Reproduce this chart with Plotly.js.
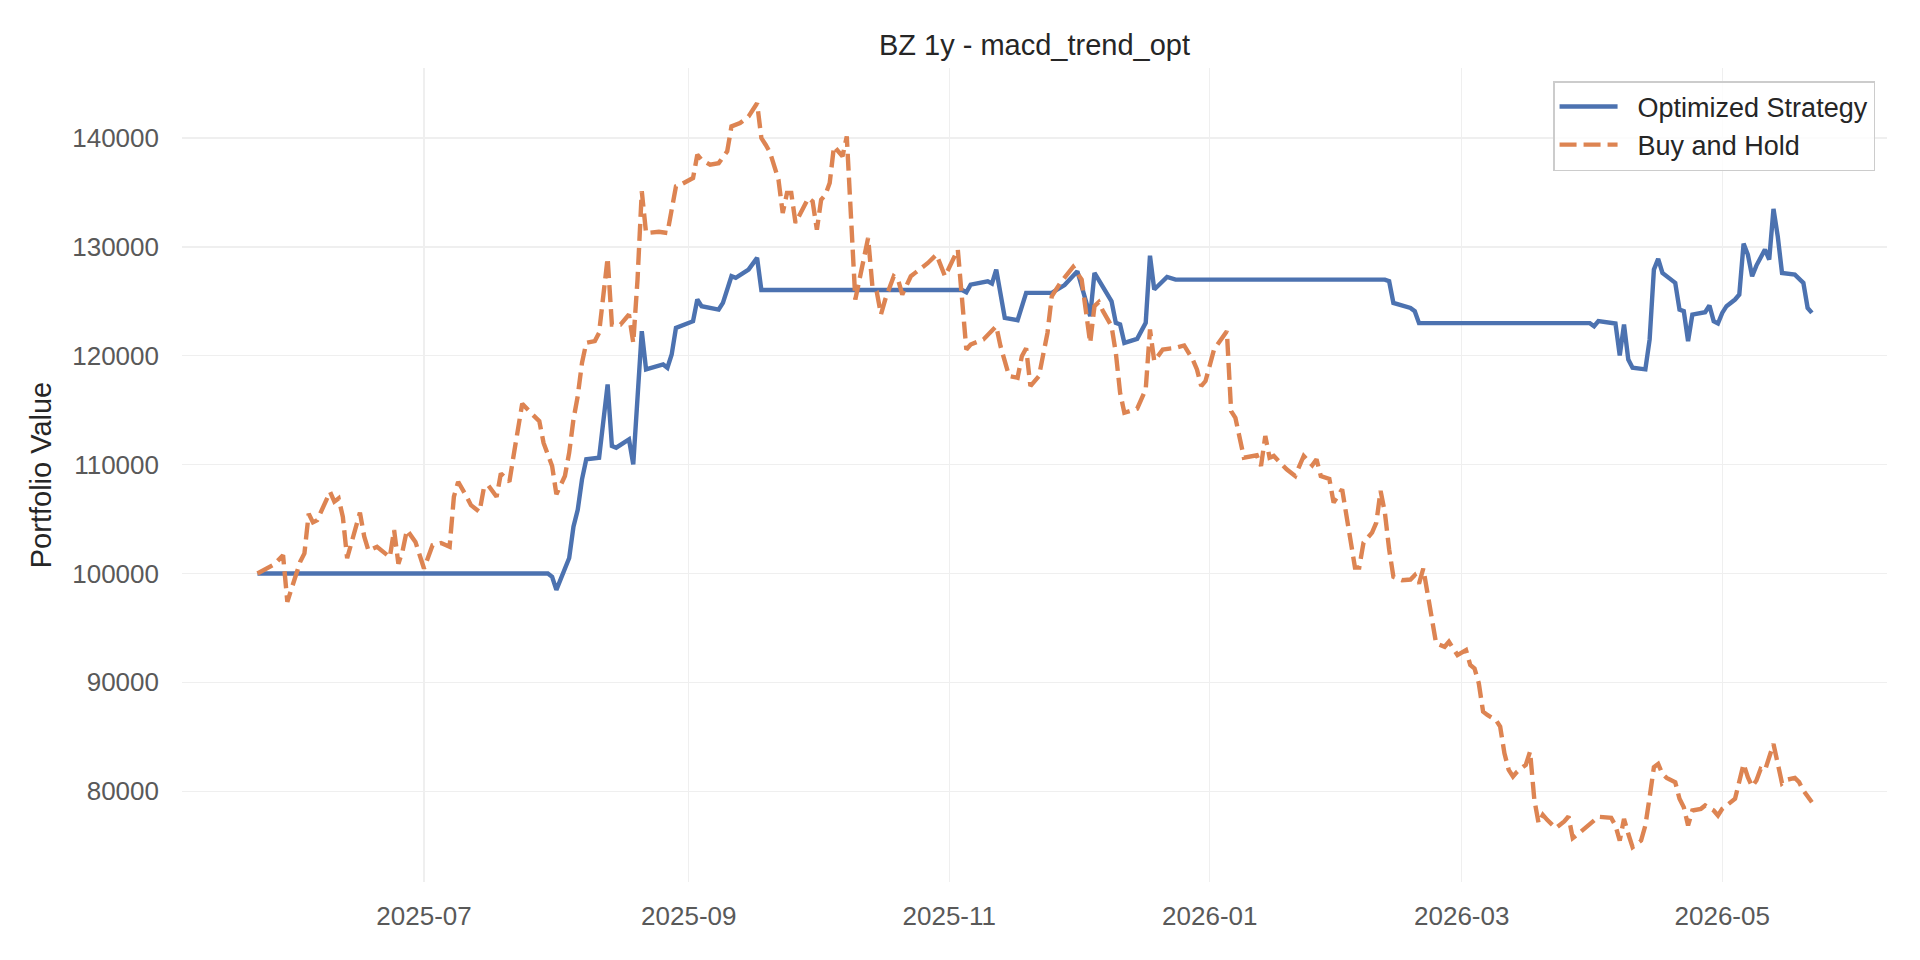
<!DOCTYPE html>
<html>
<head>
<meta charset="utf-8">
<script src="https://cdn.plot.ly/plotly-3.0.1.min.js"></script>
<style>
  html, body { margin: 0; padding: 0; background: #ffffff; }
  #chart { width: 1920px; height: 960px; }
</style>
</head>
<body>
<div id="chart"></div>
<script>
// Buy and Hold (dashed orange)
var holdDates = [
  "2025-05-23","2025-05-27","2025-05-29","2025-05-30","2025-06-02","2025-06-03","2025-06-04","2025-06-05",
  "2025-06-06","2025-06-09","2025-06-10","2025-06-11","2025-06-12","2025-06-13","2025-06-16","2025-06-17",
  "2025-06-18","2025-06-20","2025-06-23","2025-06-24","2025-06-25","2025-06-26","2025-06-27","2025-06-29",
  "2025-07-01","2025-07-03","2025-07-05","2025-07-07","2025-07-08","2025-07-09","2025-07-11","2025-07-12",
  "2025-07-14","2025-07-15","2025-07-16","2025-07-18","2025-07-19","2025-07-21","2025-07-22","2025-07-24",
  "2025-07-26","2025-07-28","2025-07-29","2025-07-31","2025-08-01","2025-08-03","2025-08-04","2025-08-05",
  "2025-08-06","2025-08-07","2025-08-08","2025-08-10","2025-08-11","2025-08-12","2025-08-13","2025-08-14",
  "2025-08-16","2025-08-18","2025-08-19","2025-08-20","2025-08-21","2025-08-22","2025-08-25","2025-08-27",
  "2025-08-29","2025-08-30","2025-09-02","2025-09-03","2025-09-04","2025-09-06","2025-09-08","2025-09-10",
  "2025-09-11","2025-09-13","2025-09-15","2025-09-17","2025-09-18","2025-09-19","2025-09-20","2025-09-22",
  "2025-09-23","2025-09-24","2025-09-25","2025-09-26","2025-09-29","2025-09-30","2025-10-01","2025-10-02",
  "2025-10-03","2025-10-04","2025-10-05","2025-10-07","2025-10-08","2025-10-10","2025-10-13","2025-10-14",
  "2025-10-15","2025-10-16","2025-10-17","2025-10-19","2025-10-20","2025-10-21","2025-10-23","2025-10-24",
  "2025-10-27","2025-10-29","2025-10-30","2025-10-31","2025-11-03","2025-11-04","2025-11-05","2025-11-06",
  "2025-11-09","2025-11-12","2025-11-13","2025-11-15","2025-11-17","2025-11-18","2025-11-19","2025-11-20",
  "2025-11-22","2025-11-24","2025-11-25","2025-11-27","2025-11-28","2025-11-30","2025-12-02","2025-12-03",
  "2025-12-04","2025-12-05","2025-12-06","2025-12-07","2025-12-09","2025-12-10","2025-12-11","2025-12-12",
  "2025-12-15","2025-12-17","2025-12-18","2025-12-19","2025-12-21","2025-12-24","2025-12-26","2025-12-28",
  "2025-12-29","2025-12-30","2025-12-31","2026-01-02","2026-01-05","2026-01-06","2026-01-07","2026-01-09",
  "2026-01-12","2026-01-13","2026-01-14","2026-01-15","2026-01-16","2026-01-19","2026-01-21","2026-01-23",
  "2026-01-25","2026-01-26","2026-01-27","2026-01-29","2026-01-30","2026-02-01","2026-02-03","2026-02-04",
  "2026-02-05","2026-02-06","2026-02-08","2026-02-09","2026-02-10","2026-02-11","2026-02-12","2026-02-13",
  "2026-02-15","2026-02-17","2026-02-18","2026-02-19","2026-02-20","2026-02-21","2026-02-22","2026-02-23",
  "2026-02-25","2026-02-26","2026-02-27","2026-02-28","2026-03-02","2026-03-03","2026-03-04","2026-03-05",
  "2026-03-06","2026-03-07","2026-03-09","2026-03-10","2026-03-11","2026-03-12","2026-03-13","2026-03-14",
  "2026-03-16","2026-03-17","2026-03-18","2026-03-19","2026-03-20","2026-03-21","2026-03-23","2026-03-25",
  "2026-03-26","2026-03-27","2026-03-28","2026-03-31","2026-04-02","2026-04-05","2026-04-06","2026-04-07",
  "2026-04-08","2026-04-09","2026-04-10","2026-04-12","2026-04-13","2026-04-14","2026-04-15","2026-04-16",
  "2026-04-17","2026-04-18","2026-04-20","2026-04-21","2026-04-22","2026-04-23","2026-04-24","2026-04-26",
  "2026-04-27","2026-04-29","2026-04-30","2026-05-01","2026-05-03","2026-05-04","2026-05-06","2026-05-07",
  "2026-05-08","2026-05-09","2026-05-10","2026-05-11","2026-05-13","2026-05-14","2026-05-15","2026-05-16",
  "2026-05-18","2026-05-19","2026-05-20","2026-05-22"
];
var holdValues = [
  100000,100860,101680,97400,101070,101840,105500,104700,
  104900,107500,106600,106900,105200,101400,105600,103400,
  102100,102450,101500,104000,100900,102100,104000,102900,
  100460,102600,102800,102450,107050,108430,107050,106280,
  105670,107810,108120,107050,109190,108430,110880,115600,
  114770,114000,112000,109880,107280,108960,111100,114160,
  116300,119360,121190,121350,122110,125780,129000,122870,
  122870,123790,121190,127000,135110,131280,131400,131280,
  135570,135700,136330,138470,138000,137550,137700,138780,
  141070,141380,141990,143200,140000,139390,138700,136200,
  133120,134950,134950,132200,134500,134190,131590,134340,
  134800,135870,139240,138320,140150,125170,130830,126390,
  125930,123790,125170,127310,127000,125630,127310,127620,
  128530,129300,128230,127310,129760,125170,120580,121040,
  121500,122720,120890,118140,117980,119970,120700,117220,
  118140,122110,125470,126700,127160,128170,127000,124250,
  121190,124560,124930,124100,122720,120280,116610,114770,
  115140,116910,122420,119510,120580,120730,120950,119660,
  118750,117220,117680,120580,122260,114920,114310,110640,
  110860,109880,112630,110640,110800,109570,108960,110800,
  109940,110490,108960,108700,106520,107740,103150,100550,
  100550,102840,103760,104680,107590,105600,102230,99700,
  99390,99450,99850,99080,100460,98170,95720,93580,
  93270,93730,93120,92510,92970,91590,91280,89910,
  87310,87000,86540,85930,83490,81960,81350,81810,
  82420,83640,79210,77060,77830,77370,76610,77220,
  77680,75690,75990,77060,77650,77550,76850,75470,
  77460,76090,74860,75470,76850,79450,82200,82510,
  81590,81220,80830,79300,78530,76850,78230,78380,
  78690,78230,77770,78380,79000,79300,82510,81290,
  80430,80980,82050,81900,84340,82660,80730,81040,
  81220,80830,80060,78990
];

// Optimized Strategy (solid blue)
var stratDates = [
  "2025-05-23","2025-07-30","2025-07-31","2025-08-01","2025-08-04","2025-08-05","2025-08-06","2025-08-07",
  "2025-08-08","2025-08-11","2025-08-13","2025-08-14","2025-08-15","2025-08-18","2025-08-19","2025-08-21",
  "2025-08-22","2025-08-26","2025-08-27","2025-08-28","2025-08-29","2025-09-02","2025-09-03","2025-09-04",
  "2025-09-08","2025-09-09","2025-09-11","2025-09-12","2025-09-15","2025-09-17","2025-09-18","2025-11-04",
  "2025-11-05","2025-11-06","2025-11-10","2025-11-11","2025-11-12","2025-11-14","2025-11-17","2025-11-19",
  "2025-11-25","2025-11-28","2025-12-01","2025-12-04","2025-12-05","2025-12-09","2025-12-10","2025-12-11",
  "2025-12-12","2025-12-15","2025-12-17","2025-12-18","2025-12-19","2025-12-22","2025-12-24","2026-02-11",
  "2026-02-12","2026-02-13","2026-02-17","2026-02-18","2026-02-19","2026-03-31","2026-04-01","2026-04-02",
  "2026-04-06","2026-04-07","2026-04-08","2026-04-09","2026-04-10","2026-04-13","2026-04-14","2026-04-15",
  "2026-04-16","2026-04-17","2026-04-20","2026-04-21","2026-04-22","2026-04-23","2026-04-24","2026-04-27",
  "2026-04-28","2026-04-29","2026-04-30","2026-05-01","2026-05-02","2026-05-04","2026-05-05","2026-05-06",
  "2026-05-07","2026-05-08","2026-05-09","2026-05-11","2026-05-12","2026-05-13","2026-05-14","2026-05-15",
  "2026-05-18","2026-05-20","2026-05-21","2026-05-22"
];
var stratValues = [
  100000,100000,99700,98500,101430,104300,105850,108650,
  110490,110640,117370,111710,111560,112320,110030,122260,
  118750,119210,118900,120120,122570,123180,125170,124560,
  124250,124860,127310,127160,127920,129000,126050,126050,
  125840,126540,126850,126640,127920,123490,123270,125780,
  125780,126500,127770,123640,127610,125010,123030,122880,
  121190,121560,123030,129200,126090,127250,127000,127000,
  126850,124860,124400,124100,123000,123000,122720,123180,
  122970,120030,122880,119660,118900,118750,121500,127920,
  128900,127610,126700,124250,124100,121350,123790,124010,
  124620,123180,122970,123940,124560,125170,125630,130310,
  129300,127310,128290,129760,128840,133490,130980,127610,
  127460,126700,124400,123940
];

var chartTitle = "BZ 1y - macd_trend_opt";
var yTitle = "Portfolio Value";
// two no-break spaces open the gap between legend line and label
var legendPad = "\u00a0\u00a0";

var fontFamily = "Liberation Sans, Arial, Helvetica, sans-serif";

var traceStrat = {
    x: stratDates,
    y: stratValues,
    type: "scatter",
    mode: "lines",
    name: legendPad + "Optimized Strategy",
    line: { color: "#4c72b0", width: 4.4 }
};
var traceHold = {
    x: holdDates,
    y: holdValues,
    type: "scatter",
    mode: "lines",
    name: legendPad + "Buy and Hold",
    line: { color: "#dd8452", width: 4.4, dash: "17px,7px" }
};

var layout = {
    width: 1920,
    height: 960,
    paper_bgcolor: "#ffffff",
    plot_bgcolor: "#ffffff",
    font: { family: fontFamily, size: 26, color: "#262626" },
    margin: { l: 182, r: 33, t: 68, b: 78 },
    showlegend: true,
    title: {
        text: chartTitle,
        font: { family: fontFamily, size: 29, color: "#262626" },
        x: 0.5, xref: "paper", xanchor: "center",
        y: 1 - 45 / 960, yref: "container", yanchor: "middle"
    },
    xaxis: {
        type: "date",
        range: ["2025-05-05 08:00", "2026-06-08 14:00"],
        tick0: "2025-07-01",
        dtick: "M2",
        tickformat: "%Y-%m",
        showgrid: true,
        gridcolor: "#efefef",
        gridwidth: 1.3,
        zeroline: false,
        showline: false,
        ticks: "",
        ticklabelstandoff: 16,
        tickfont: { family: fontFamily, size: 26, color: "#595959" }
    },
    yaxis: {
        range: [71660, 146440],
        tick0: 0,
        dtick: 10000,
        tickformat: "d",
        showgrid: true,
        gridcolor: "#efefef",
        gridwidth: 1.3,
        zeroline: false,
        showline: false,
        ticks: "",
        ticklabelstandoff: 22,
        tickfont: { family: fontFamily, size: 26, color: "#595959" },
        title: {
            text: yTitle,
            font: { family: fontFamily, size: 29, color: "#262626" },
            standoff: 12
        }
    },
    legend: {
        x: 0.993, xref: "paper", xanchor: "right",
        y: 0.984, yref: "paper", yanchor: "top",
        bgcolor: "rgba(255,255,255,0.8)",
        bordercolor: "#cccccc",
        borderwidth: 1.5,
        font: { family: fontFamily, size: 27, color: "#262626" },
        itemwidth: 58
    },
    hovermode: false
};

Plotly.newPlot("chart", [traceStrat, traceHold], layout, { displayModeBar: false, staticPlot: true });
</script>
</body>
</html>
